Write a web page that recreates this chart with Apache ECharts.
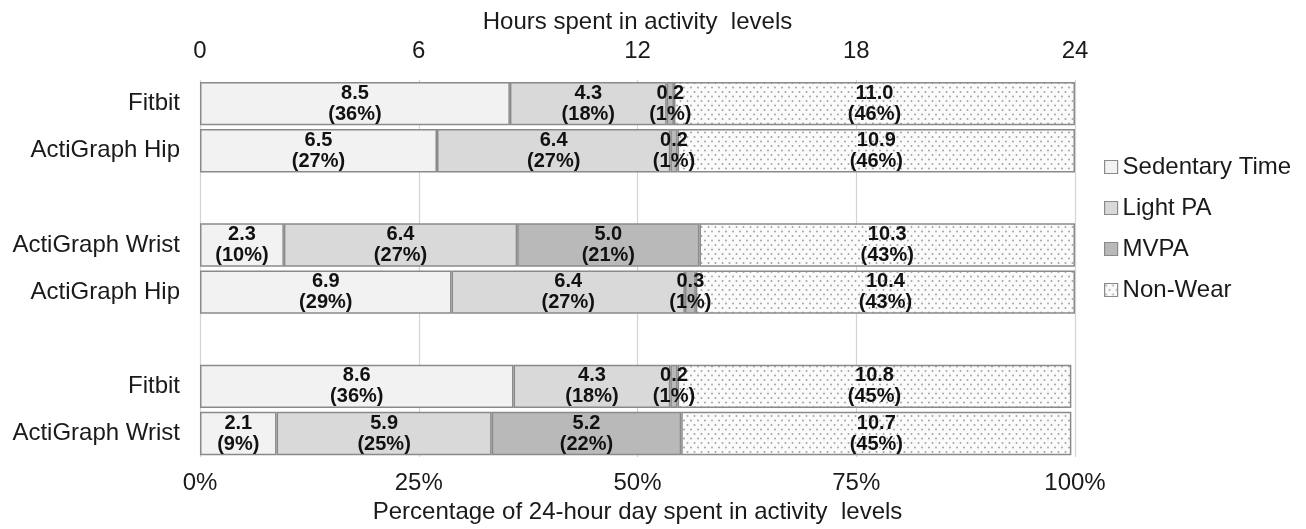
<!DOCTYPE html>
<html>
<head>
<meta charset="utf-8">
<script src="https://cdn.jsdelivr.net/npm/echarts@6/dist/echarts.min.js"></script>
<style>
  html, body { margin: 0; padding: 0; background: #ffffff; }
  #chart { width: 1306px; height: 529px; }
</style>
</head>
<body>
<div id="chart"></div>
<script>
// ---- Data (hours per day; blank rows are spacers) ----
const categories = ['Fitbit', 'ActiGraph Hip', '', 'ActiGraph Wrist', 'ActiGraph Hip', '', 'Fitbit', 'ActiGraph Wrist'];
const seriesNames = ['Sedentary Time', 'Light PA', 'MVPA', 'Non-Wear'];
const sedentaryHours = [8.5, 6.5, null, 2.3, 6.9, null, 8.6, 2.1];
const lightHours     = [4.3, 6.4, null, 6.4, 6.4, null, 4.3, 5.9];
const mvpaHours      = [0.2, 0.2, null, 5.0, 0.3, null, 0.2, 5.2];
const nonWearHours   = [11.0, 10.9, null, 10.3, 10.4, null, 10.8, 10.7];
const sedentaryPct = [36, 27, null, 10, 29, null, 36, 9];
const lightPct     = [18, 27, null, 27, 27, null, 18, 25];
const mvpaPct      = [1, 1, null, 21, 1, null, 1, 22];
const nonWearPct   = [46, 46, null, 43, 43, null, 45, 45];
const hourTicks = [0, 6, 12, 18, 24];
const pctTicks = [0, 25, 50, 75, 100];

// ---- Dotted pattern for Non-Wear ----
function dotPattern() {
  const c = document.createElement('canvas');
  c.width = 7; c.height = 9;
  const g = c.getContext('2d');
  g.fillStyle = '#fbfbfb';
  g.fillRect(0, 0, 7, 9);
  g.fillStyle = '#a4a4a4';
  g.beginPath(); g.arc(1.5, 2, 1.0, 0, Math.PI * 2); g.fill();
  g.beginPath(); g.arc(5, 6.5, 1.0, 0, Math.PI * 2); g.fill();
  return { image: c, repeat: 'repeat' };
}

const fills = ['#f2f2f2', '#d9d9d9', '#b9b9b9', dotPattern()];
const hoursData = [sedentaryHours, lightHours, mvpaHours, nonWearHours];
const pctData = [sedentaryPct, lightPct, mvpaPct, nonWearPct];
const FONT = '"Liberation Sans", Arial, sans-serif';
const TXT = '#1a1a1a';

const series = seriesNames.map((name, i) => ({
  name: name,
  type: 'bar',
  stack: 'day',
  xAxisIndex: 0,
  barCategoryGap: '8%',
  data: hoursData[i].map(v => (v === null ? '-' : v)),
  itemStyle: { color: fills[i], borderColor: '#8a8a8a', borderWidth: 1.5 },
  label: {
    show: true,
    position: 'inside',
    fontFamily: FONT,
    fontWeight: 'bold',
    fontSize: 20,
    lineHeight: 21,
    color: '#111111',
    formatter: p => (typeof p.value === 'number'
      ? p.value.toFixed(1) + '\n(' + pctData[i][p.dataIndex] + '%)'
      : '')
  },
  emphasis: { disabled: true },
  animation: false
}));

const chart = echarts.init(document.getElementById('chart'), null, { renderer: 'canvas' });
chart.setOption({
  backgroundColor: '#ffffff',
  animation: false,
  grid: { left: 200, right: 231, top: 80, bottom: 61, containLabel: false },
  legend: {
    orient: 'vertical',
    left: 1104,
    top: 155,
    padding: 0,
    itemWidth: 13,
    itemHeight: 13,
    itemGap: 17,
    data: seriesNames,
    icon: 'rect',
    itemStyle: { borderColor: '#8a8a8a', borderWidth: 1.2 },
    textStyle: { fontFamily: FONT, fontSize: 24, lineHeight: 24, color: TXT },
    selectedMode: false
  },
  xAxis: [
    {
      type: 'value',
      position: 'top',
      min: hourTicks[0],
      max: hourTicks[hourTicks.length - 1],
      interval: hourTicks[1] - hourTicks[0],
      name: 'Hours spent in activity  levels',
      nameLocation: 'middle',
      nameGap: 45,
      nameTextStyle: { fontFamily: FONT, fontSize: 24, color: TXT },
      axisLine: { show: false },
      axisTick: { show: false },
      axisLabel: { fontFamily: FONT, fontSize: 24, color: TXT, margin: 17 },
      splitLine: { show: true, lineStyle: { color: '#d4d4d4', width: 1.2 } }
    },
    {
      type: 'value',
      position: 'bottom',
      min: pctTicks[0],
      max: pctTicks[pctTicks.length - 1],
      interval: pctTicks[1] - pctTicks[0],
      name: 'Percentage of 24-hour day spent in activity  levels',
      nameLocation: 'middle',
      nameGap: 31,
      nameTextStyle: { fontFamily: FONT, fontSize: 24, color: TXT },
      axisLine: { show: false },
      axisTick: { show: false },
      axisLabel: { fontFamily: FONT, fontSize: 24, color: TXT, margin: 14, formatter: '{value}%' },
      splitLine: { show: false }
    }
  ],
  yAxis: {
    type: 'category',
    inverse: true,
    data: categories,
    axisLine: { show: false },
    axisTick: { show: false },
    axisLabel: { fontFamily: FONT, fontSize: 24, color: TXT, margin: 20 },
    splitLine: { show: false }
  },
  series: series
});
</script>
</body>
</html>
